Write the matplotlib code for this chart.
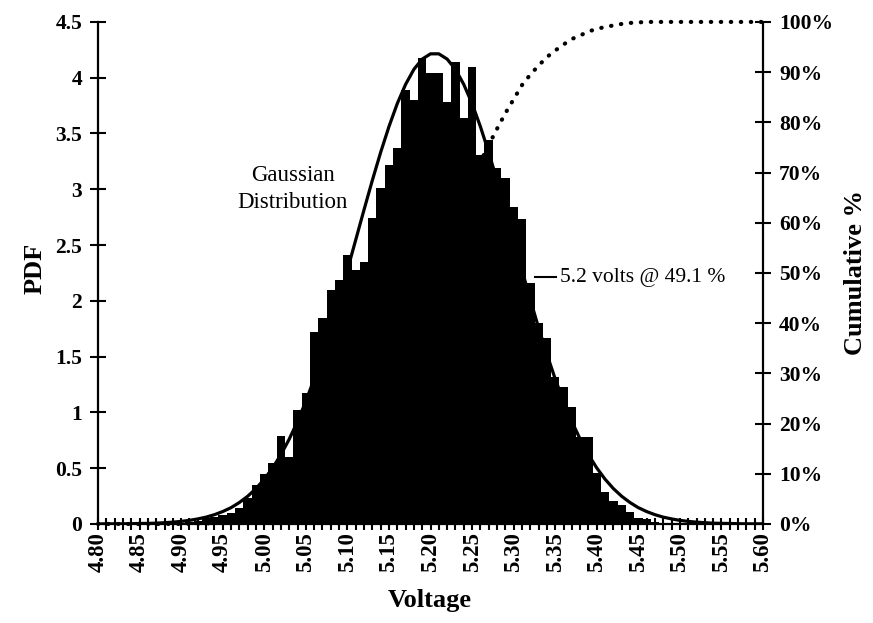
import numpy as np
import matplotlib.pyplot as plt
from matplotlib.ticker import MultipleLocator, FormatStrFormatter

plt.rcParams['font.family'] = ['Liberation Serif', 'DejaVu Serif']
plt.rcParams['font.weight'] = 'bold'

# voltage bins, 4.80 .. 5.60 in 0.01 V steps
voltage = np.round(np.arange(4.80, 5.605, 0.01), 2)

# measured PDF per bin
pdf = [0, 0, 0, 0, 0, 0, 0, 0, 0, 0,
       0.01, 0.02, 0.03, 0.05, 0.06, 0.08, 0.10, 0.14, 0.23, 0.35,
       0.45, 0.55, 0.79, 0.60, 1.02, 1.17, 1.72, 1.85, 2.10, 2.19,
       2.41, 2.28, 2.35, 2.74, 3.01, 3.22, 3.37, 3.89, 3.80, 4.18,
       4.04, 4.04, 3.78, 4.14, 3.64, 4.10, 3.31, 3.44, 3.19, 3.10,
       2.84, 2.73, 2.16, 1.80, 1.67, 1.32, 1.23, 1.05, 0.78, 0.78,
       0.46, 0.29, 0.21, 0.17, 0.11, 0.05, 0.04, 0.02, 0.01, 0.01,
       0, 0, 0, 0, 0, 0, 0, 0, 0, 0, 0]

# gaussian fit
gauss = [0.000, 0.001, 0.001, 0.001, 0.002, 0.004, 0.005, 0.007, 0.011, 0.016,
         0.023, 0.032, 0.045, 0.061, 0.083, 0.111, 0.146, 0.192, 0.248, 0.317,
         0.401, 0.502, 0.621, 0.760, 0.919, 1.100, 1.300, 1.522, 1.759, 2.012,
         2.276, 2.546, 2.816, 3.080, 3.331, 3.562, 3.768, 3.940, 4.075, 4.167,
         4.214, 4.214, 4.167, 4.075, 3.940, 3.768, 3.562, 3.331, 3.080, 2.816,
         2.546, 2.276, 2.012, 1.759, 1.522, 1.300, 1.100, 0.919, 0.760, 0.621,
         0.502, 0.401, 0.317, 0.248, 0.192, 0.146, 0.111, 0.083, 0.061, 0.045,
         0.032, 0.023, 0.016, 0.011, 0.007, 0.005, 0.004, 0.002, 0.001, 0.001, 0.001]

# cumulative %
cumulative = [0, 0, 0, 0, 0, 0, 0, 0, 0, 0,
              0.01, 0.03, 0.06, 0.11, 0.17, 0.25, 0.35, 0.49, 0.72, 1.07,
              1.52, 2.07, 2.86, 3.46, 4.48, 5.65, 7.37, 9.22, 11.32, 13.51,
              15.92, 18.20, 20.55, 23.29, 26.30, 29.52, 32.89, 36.78, 40.58, 44.76,
              49.1, 53.1, 56.9, 61.0, 64.7, 68.8, 72.1, 75.5, 78.7, 81.8,
              84.6, 87.4, 89.5, 91.3, 93.0, 94.3, 95.5, 96.6, 97.3, 98.1,
              98.6, 99.0, 99.3, 99.6, 99.8, 99.9, 100, 100, 100, 100,
              100, 100, 100, 100, 100, 100, 100, 100, 100, 100, 100]

fig = plt.figure(figsize=(8.73, 6.23), dpi=100)
ax = fig.add_axes([0.1123, 0.159, 0.7617, 0.8058])

ax.bar(voltage, pdf, width=0.0102, color='black', linewidth=0, zorder=2)
ax.plot(voltage, gauss, color='black', lw=2.3, zorder=3, solid_joinstyle='round')
ax.set_xlim(4.80, 5.60)
ax.set_ylim(0, 4.5)

ax.xaxis.set_major_locator(MultipleLocator(0.05))
ax.xaxis.set_minor_locator(MultipleLocator(0.01))
ax.xaxis.set_major_formatter(FormatStrFormatter('%.2f'))
ax.yaxis.set_major_locator(MultipleLocator(0.5))
ax.yaxis.set_major_formatter(FormatStrFormatter('%g'))
ax.tick_params(axis='x', which='both', direction='inout', length=8, width=1.5,
               labelsize=16.5, labelrotation=90, pad=2)
ax.tick_params(axis='y', direction='inout', length=11, width=1.5, labelsize=15.5, pad=6)
for s in ['top', 'right']:
    ax.spines[s].set_visible(False)
for s in ['left', 'bottom']:
    ax.spines[s].set_linewidth(1.6)

# cumulative curve on the right axis
ax2 = ax.twinx()
ax2.plot(voltage, cumulative, color='black', lw=3, linestyle=(0, (0.1, 2.3)),
         dash_capstyle='round', clip_on=False)
ax2.set_ylim(0, 100)
ax2.yaxis.set_major_locator(MultipleLocator(10))
ax2.yaxis.set_major_formatter(FormatStrFormatter('%d%%'))
ax2.tick_params(axis='y', direction='inout', length=11, width=1.5, labelsize=15.5, pad=6)
for s in ['top', 'left', 'bottom']:
    ax2.spines[s].set_visible(False)
ax2.spines['right'].set_linewidth(1.6)

# labels
ax2.plot([5.326, 5.351], [49.1, 49.1], color='black', lw=1.5)
ax2.text(5.356, 49.1, '5.2 volts @ 49.1 %', fontsize=15.5, fontweight='normal',
         va='center', ha='left')
ax.text(5.034, 3.0, 'Gaussian\nDistribution', fontsize=16.5, fontweight='normal',
        ha='center', va='center', linespacing=1.35)

fig.text(35 / 873, 1 - 268 / 623, 'PDF', rotation=90, fontsize=19, ha='center', va='center')
fig.text(855 / 873, 1 - 272 / 623, 'Cumulative %', rotation=90, fontsize=19,
         ha='center', va='center')
fig.text(430 / 873, 1 - 600 / 623, 'Voltage', fontsize=19, ha='center', va='center')

fig.savefig('out.png', dpi=100)
